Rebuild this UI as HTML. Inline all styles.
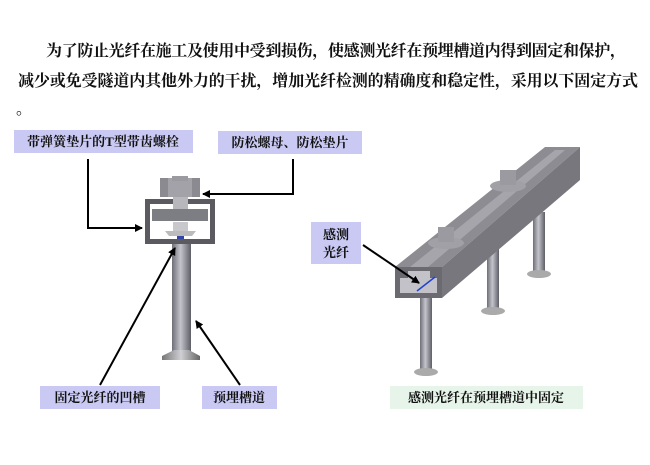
<!DOCTYPE html>
<html><head><meta charset="utf-8"><style>
body{margin:0;background:#fff;width:650px;height:465px;overflow:hidden}
svg{display:block}
.t{font-family:"Liberation Serif","Noto Serif CJK SC",serif;font-weight:bold;fill:#111}
</style></head><body>
<svg width="650" height="465" viewBox="0 0 650 465" xmlns="http://www.w3.org/2000/svg">
<defs>
<linearGradient id="rod" x1="0" x2="1"><stop offset="0" stop-color="#6e6e76"/><stop offset="0.45" stop-color="#c4c4cc"/><stop offset="1" stop-color="#5e5e66"/></linearGradient>
<linearGradient id="head" x1="0" x2="1"><stop offset="0" stop-color="#777"/><stop offset="0.5" stop-color="#cfcfd4"/><stop offset="1" stop-color="#666"/></linearGradient>
<marker id="ar" markerWidth="8" markerHeight="8" refX="7" refY="4" orient="auto" markerUnits="userSpaceOnUse"><path d="M0,0 L8,4 L0,8 z" fill="#000"/></marker>
</defs>
<text class="t" x="46" y="56" font-size="16" textLength="580">为了防止光纤在施工及使用中受到损伤，使感测光纤在预埋槽道内得到固定和保护，</text>
<text class="t" x="18" y="86" font-size="16" textLength="620">减少或免受隧道内其他外力的干扰，增加光纤检测的精确度和稳定性，采用以下固定方式</text>
<text class="t" x="16" y="114" font-size="16">。</text>

<!-- labels -->
<rect x="14" y="130" width="179" height="23" fill="#c9c9f3"/>
<text class="t" x="103" y="146" font-size="13" text-anchor="middle">带弹簧垫片的T型带齿螺栓</text>
<rect x="218" y="131" width="144" height="23" fill="#c9c9f3"/>
<text class="t" x="290" y="147" font-size="13" text-anchor="middle">防松螺母、防松垫片</text>
<rect x="40" y="386" width="120" height="23" fill="#c9c9f3"/>
<text class="t" x="100" y="402" font-size="13" text-anchor="middle">固定光纤的凹槽</text>
<rect x="202" y="386" width="75" height="23" fill="#c9c9f3"/>
<text class="t" x="239" y="402" font-size="13" text-anchor="middle">预埋槽道</text>
<rect x="311" y="222" width="50" height="42" fill="#c9c9f3"/>
<text class="t" x="336" y="239" font-size="13" text-anchor="middle">感测</text>
<text class="t" x="336" y="257" font-size="13" text-anchor="middle">光纤</text>
<rect x="390" y="386" width="193" height="23" fill="#e6f4ea"/>
<text class="t" x="486" y="402" font-size="13" text-anchor="middle">感测光纤在预埋槽道中固定</text>

<!-- left bolt -->
<rect x="172" y="244" width="19" height="108" fill="url(#rod)"/>
<path d="M174,350 L189,350 L200,356 L200,360 L162,360 L162,356 Z" fill="url(#head)"/>
<path d="M145,199 H215 V244 H145 Z M150,204 V239 H210 V204 H198 V209 H163 V204 Z" fill="#5a5a60" fill-rule="evenodd"/>
<rect x="150" y="204" width="60" height="35" fill="#fff"/>
<rect x="163" y="204" width="35" height="5" fill="#fff"/>
<rect x="152" y="209" width="56" height="12" fill="#7d7d84"/>
<rect x="173" y="196" width="15" height="13" fill="#b8b8bc"/>
<rect x="173" y="222" width="15" height="9" fill="#c8c8cc"/>
<path d="M165,231 H196 L192,236 H169 Z" fill="#bbb"/>
<rect x="177" y="236" width="7" height="3" fill="#3344aa"/>
<rect x="160" y="178" width="40" height="19" fill="#8a8a90"/>
<rect x="168" y="178" width="24" height="19" fill="#a2a2a8"/>
<rect x="172" y="176" width="16" height="5" fill="#9a9aa0"/>

<!-- left arrows -->
<polyline points="88,159 88,228 142,228" fill="none" stroke="#000" stroke-width="2" marker-end="url(#ar)"/>
<polyline points="293,159 293,194 203,194" fill="none" stroke="#000" stroke-width="2" marker-end="url(#ar)"/>
<line x1="100" y1="385" x2="175" y2="248" stroke="#000" stroke-width="2" marker-end="url(#ar)"/>
<line x1="240" y1="385" x2="196" y2="321" stroke="#000" stroke-width="2" marker-end="url(#ar)"/>

<!-- right channel assembly -->
<rect x="533" y="212" width="12" height="62" fill="url(#rod)"/>
<ellipse cx="539" cy="274" rx="12" ry="4" fill="#aaa"/>
<rect x="487" y="240" width="12" height="70" fill="url(#rod)"/>
<ellipse cx="493" cy="311" rx="12" ry="4" fill="#aaa"/>
<rect x="420" y="296" width="12" height="75" fill="url(#rod)"/>
<ellipse cx="426" cy="372" rx="12" ry="4" fill="#aaa"/>
<!-- top face -->
<polygon points="395,267 442,267 580,147 545,147" fill="#8c8c92"/>
<polygon points="410,267 428,267 565,150 555,150" fill="#a5a5ab"/>
<!-- right side -->
<polygon points="442,267 580,147 580,180 442,298" fill="#77777d"/>
<!-- front face -->
<rect x="395" y="267" width="47" height="31" fill="#6a6a70"/>
<rect x="400" y="278" width="37" height="15" fill="#c2c2c8"/>
<rect x="408" y="271" width="22" height="7" fill="#c2c2c8"/>
<line x1="417" y1="291" x2="435" y2="277" stroke="#2244cc" stroke-width="1.5"/>
<!-- bolts on top -->
<ellipse cx="508" cy="186" rx="18" ry="6" fill="#a0a0a6"/>
<rect x="500" y="170" width="16" height="15" fill="#9a9aa0"/>
<ellipse cx="446" cy="243" rx="18" ry="6" fill="#a0a0a6"/>
<rect x="438" y="227" width="16" height="15" fill="#9a9aa0"/>
<line x1="363" y1="245" x2="419" y2="283" stroke="#000" stroke-width="2" marker-end="url(#ar)"/>
</svg>
</body></html>
